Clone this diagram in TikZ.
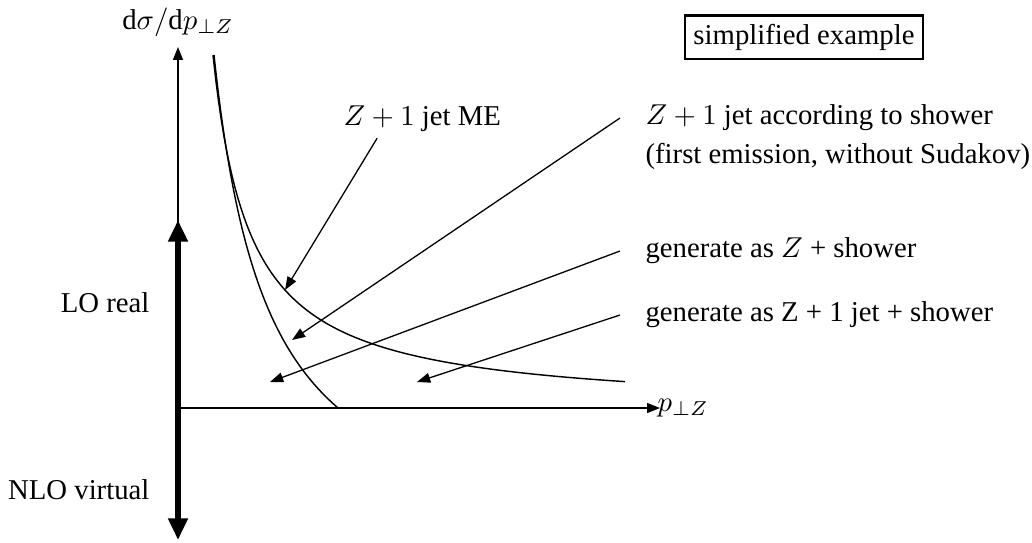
\documentclass[tikz,border=0pt]{standalone}
\usepackage{fontspec}
\setmainfont{Liberation Serif}
\usetikzlibrary{arrows.meta, positioning, calc}
\tikzset{
  lbl/.style={
    inner sep=0pt, align=left,
  },
  tag/.style={
    rectangle, draw=black, line width=0.9pt, inner sep=3pt,
  },
  axis/.style={
    -{Triangle[length=4.5pt, width=3.5pt]}, line width=0.4pt,
  },
  fatarrow/.style={
    {Triangle[length=7.5pt, width=6.5pt]}-{Triangle[length=7.5pt, width=6.5pt]},
    line width=2.4pt,
  },
  ptr/.style={
    -{Triangle[length=4.6pt, width=3.4pt]}, line width=0.45pt,
  },
  curve/.style={
    line width=0.5pt,
  }
}
\begin{document}
\begin{tikzpicture}[x=0.348pt, y=0.348pt]
  \useasboundingbox (-178,-134) rectangle (854,408);

  % axes
  \coordinate (o) at (0,0);
  \coordinate (ytop) at (0,361);
  \coordinate (xend) at (482,0);
  \draw[axis] (o) -- (ytop);
  \draw[axis] (o) -- (xend);
  \node[lbl, above=3.5pt] (ylab) at (ytop) {$\mathrm{d}\sigma/\mathrm{d}p_{\perp Z}$};
  \node[lbl, anchor=west] (xlab) at (479,0) {$p_{\perp Z}$};

  % real / virtual
  \coordinate (lotop) at (0,188);
  \coordinate (nlobot) at (0,-132);
  \draw[fatarrow] (nlobot) -- (lotop);
  \node[lbl, anchor=east] (lo) at (-28,105) {LO real};
  \node[lbl, anchor=east] (nlo) at (-28,-82) {NLO virtual};

  % ME and shower curves
  \draw[curve] plot[domain=35:447, samples=150] (\x, {13197/(\x+2.07)-3});
  \draw[curve] plot[domain=36:160, samples=100] (\x, {272.98/(\x+17.9)*100-153.4});

  \node[tag] (simp) at (626,371) {simplified example};

  \node[lbl, anchor=west] (me) at (165,289) {$Z+1$ jet ME};
  \node[lbl, anchor=west] (shw) at (467,290) {$Z+1$ jet according to shower};
  \node[lbl, anchor=west] (shwb) at (467,252) {(first emission, without Sudakov)};
  \node[lbl, anchor=west] (gz) at (467,157) {generate as $Z$ + shower};
  \node[lbl, anchor=west] (gzj) at (467,93) {generate as Z + 1 jet + shower};

  \coordinate (mept) at (107,118);
  \coordinate (shwpt) at (114,68);
  \coordinate (zpt) at (92,26);
  \coordinate (zjpt) at (239,26);

  \draw[ptr] ([xshift=-15.7pt, yshift=-2pt]me.south) -- (mept);
  \draw[ptr] ([xshift=-8.7pt]shw.west) -- (shwpt);
  \draw[ptr] ([xshift=-8.7pt]gz.west) -- (zpt);
  \draw[ptr] ([xshift=-8.7pt]gzj.west) -- (zjpt);

\end{tikzpicture}
\end{document}
